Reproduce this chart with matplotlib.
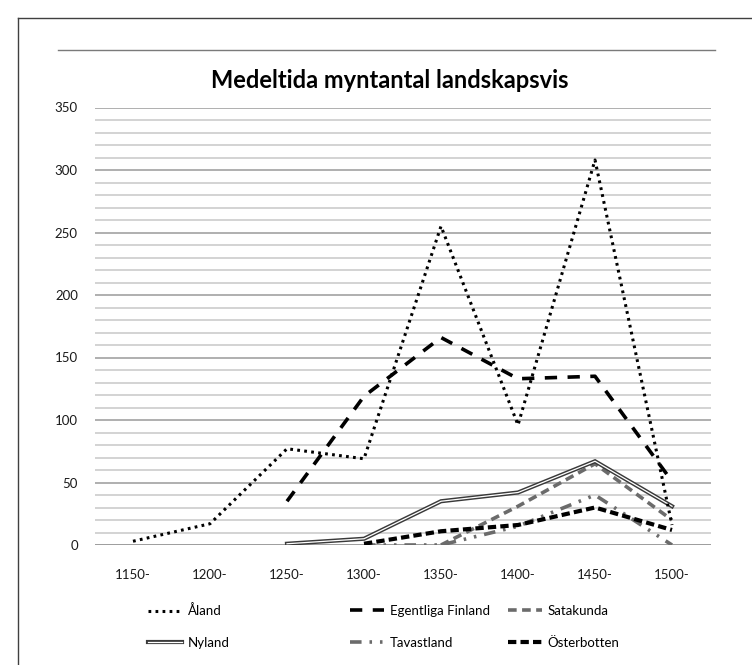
import numpy as np
import matplotlib
matplotlib.use("Agg")
import matplotlib.pyplot as plt
from matplotlib.lines import Line2D
from matplotlib.legend_handler import HandlerTuple

plt.rcParams['font.family'] = ['Lato', 'DejaVu Sans']

categories = ["1150-", "1200-", "1250-", "1300-", "1350-", "1400-", "1450-", "1500-"]
aland      = [3, 17, 77, 69, 255, 96, 308, 16]
egentliga  = [np.nan, np.nan, 35, 119, 166, 133, 135, 51]
satakunda  = [np.nan, np.nan, np.nan, np.nan, 0, 31, 65, 20]
nyland     = [np.nan, np.nan, 1, 5, 35, 42, 67, 31]
tavastland = [np.nan, np.nan, np.nan, 0, 0, 15, 40, 0]
osterbotten = [np.nan, np.nan, np.nan, 1, 11, 16, 30, 12]
yticks = [0, 50, 100, 150, 200, 250, 300, 350]
title = "Medeltida myntantal landskapsvis"

W, H = 752, 665
fig = plt.figure(figsize=(W / 100, H / 100), dpi=100)
fig.patch.set_facecolor('white')

ax = fig.add_axes([94.5 / W, 1 - 545 / H, 616 / W, (545 - 107.5) / H])
x = np.arange(len(categories))

# grid
for v in range(0, 351, 10):
    if v == 0:
        c, lw = '#8c8c8c', 1.2
    elif v % 50 == 0:
        c, lw = '#9a9a9a', 1.1
    else:
        c, lw = '#c8c8c8', 1.1
    ax.axhline(v, color=c, lw=lw, zorder=0)

GRAY = '#6b6b6b'
l_aland, = ax.plot(x, aland, color='black', lw=2.2, linestyle=(0, (0.9, 1.4)), zorder=5)
l_eg, = ax.plot(x, egentliga, color='black', lw=2.6, linestyle=(0, (3.4, 2.9)), zorder=4)
l_sat, = ax.plot(x, satakunda, color=GRAY, lw=2.6, linestyle=(0, (2.4, 1.5)), zorder=3)
l_ny_o, = ax.plot(x, nyland, color='#3a3a3a', lw=3.0, solid_joinstyle='miter', zorder=3)
l_ny_i, = ax.plot(x, nyland, color='white', lw=0.9, solid_joinstyle='miter', zorder=3)
l_tav, = ax.plot(x, tavastland, color=GRAY, lw=2.6, linestyle=(0, (3.2, 2.2, 0.7, 2.2, 0.7, 2.2)), zorder=3)
l_ost, = ax.plot(x, osterbotten, color='black', lw=3.0, linestyle=(0, (2.0, 1.0)), zorder=4)

ax.set_xlim(-0.5, len(categories) - 0.5)
ax.set_ylim(0, 350)
ax.set_xticks(x)
ax.set_xticklabels(categories)
ax.set_yticks(yticks)
ax.tick_params(axis='both', length=0, labelsize=9.5, colors='#1a1a1a')
ax.tick_params(axis='x', pad=17)
ax.tick_params(axis='y', pad=12)
for s in ax.spines.values():
    s.set_visible(False)

# title and decorations
fig.text(390 / W, 1 - 80 / H, title, ha='center', va='center', fontsize=17, fontweight='bold', color='black')
fig.add_artist(Line2D([58 / W, 715 / W], [1 - 50 / H, 1 - 50 / H], color='#7a7a7a', lw=1.0))
fig.add_artist(Line2D([18 / W, 18 / W], [0, 1 - 18 / H], color='#404040', lw=1.0))
fig.add_artist(Line2D([18 / W, 1], [1 - 18 / H, 1 - 18 / H], color='#404040', lw=1.0))

# legends
items = [
    (l_aland, "Åland", 148, 611),
    (l_eg, "Egentliga Finland", 350, 611),
    (l_sat, "Satakunda", 508, 611),
    ((l_ny_o, l_ny_i), "Nyland", 148, 643),
    (l_tav, "Tavastland", 350, 643),
    (l_ost, "Österbotten", 508, 643),
]
for h, lab, px, py in items:
    fig.legend([h], [lab], loc='center left', bbox_to_anchor=(px / W, 1 - py / H),
               frameon=False, fontsize=9.5, handlelength=2.6, handletextpad=0.4,
               borderpad=0, borderaxespad=0,
               handler_map={tuple: HandlerTuple(ndivide=1)})

fig.savefig("out.png", dpi=100, facecolor='white')
